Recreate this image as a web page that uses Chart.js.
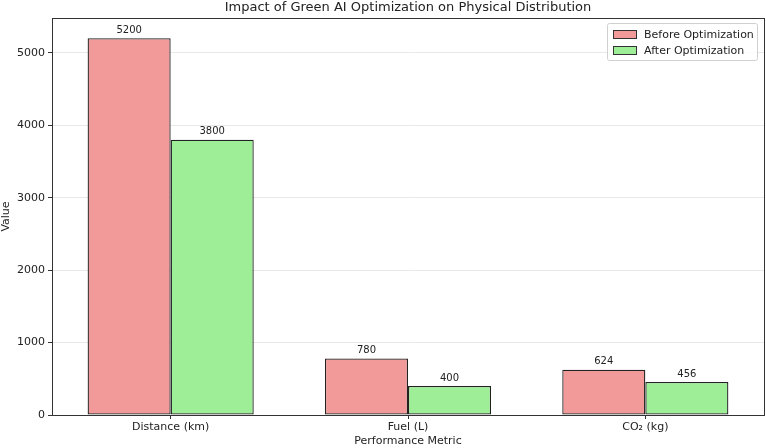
<!DOCTYPE html>
<html><head><meta charset="utf-8">
<script src="https://cdn.jsdelivr.net/npm/chart.js@4/dist/chart.umd.min.js"></script>
<style>html,body{margin:0;padding:0;background:#fff}#wrap{width:766px;height:448px}</style>
</head><body><div id="wrap"><canvas id="c" width="766" height="448"></canvas></div>
<script>
const categories = ['Distance (km)', 'Fuel (L)', 'CO\u2082 (kg)'];
const beforeValues = [5200, 780, 624];
const afterValues = [3800, 400, 456];
const seriesNames = ['Before Optimization', 'After Optimization'];
const yTicks = [0, 1000, 2000, 3000, 4000, 5000];
const chartTitle = 'Impact of Green AI Optimization on Physical Distribution';

const FONT = "'DejaVu Sans', sans-serif";
const red = 'rgb(242,153,153)';
const green = 'rgb(158,238,152)';

const framePlugin = {
  id: 'frame',
  afterDraw(chart) {
    const {ctx, chartArea: a} = chart;
    ctx.save();
    ctx.strokeStyle = '#333';
    ctx.lineWidth = 1;
    ctx.strokeRect(Math.round(a.left) + 0.5, Math.round(a.top) + 0.5, Math.round(a.right - a.left), Math.round(a.bottom - a.top));
    ctx.restore();
  }
};

const axesTitle = {
  id: 'axesTitle',
  afterDraw(chart) {
    const {ctx, chartArea: a} = chart;
    ctx.save();
    ctx.font = '13px ' + FONT;
    ctx.fillStyle = '#222';
    ctx.textAlign = 'center';
    ctx.textBaseline = 'middle';
    ctx.fillText(chartTitle, (a.left + a.right) / 2, 8);
    ctx.restore();
  }
};

const valueLabels = {
  id: 'valueLabels',
  afterDatasetsDraw(chart) {
    const ctx = chart.ctx;
    ctx.save();
    ctx.font = '10px ' + FONT;
    ctx.fillStyle = '#222';
    ctx.textAlign = 'center';
    ctx.textBaseline = 'bottom';
    chart.data.datasets.forEach((ds, i) => {
      chart.getDatasetMeta(i).data.forEach((bar, j) => {
        ctx.fillText(String(ds.data[j]), bar.x, bar.y - 3);
      });
    });
    ctx.restore();
  }
};

const boxLegend = {
  id: 'boxLegend',
  afterDraw(chart) {
    const {ctx, chartArea: a} = chart;
    ctx.save();
    ctx.font = '11px ' + FONT;
    const w = 150, h = 37;
    const x = a.right - 7 - w, y = a.top + 5;
    ctx.fillStyle = 'rgba(255,255,255,0.85)';
    ctx.strokeStyle = '#d0d0d0';
    ctx.lineWidth = 1;
    ctx.beginPath();
    ctx.roundRect(x + 0.5, y + 0.5, w, h, 2);
    ctx.fill();
    ctx.stroke();
    chart.data.datasets.forEach((ds, i) => {
      const yy = y + 11 + i * 16;
      ctx.fillStyle = ds.backgroundColor;
      ctx.fillRect(x + 6, yy - 4, 23, 8);
      ctx.strokeStyle = '#333';
      ctx.strokeRect(x + 6.5, yy - 3.5, 23, 8);
      ctx.fillStyle = '#222';
      ctx.textBaseline = 'middle';
      ctx.textAlign = 'left';
      ctx.fillText(ds.label, x + 37, yy + 1);
    });
    ctx.restore();
  }
};

new Chart(document.getElementById('c'), {
  type: 'bar',
  data: {
    labels: categories,
    datasets: [
      {label: seriesNames[0], data: beforeValues, backgroundColor: red, borderColor: '#222', borderWidth: 1.3, borderSkipped: false},
      {label: seriesNames[1], data: afterValues, backgroundColor: green, borderColor: '#222', borderWidth: 1.3, borderSkipped: false}
    ]
  },
  options: {
    responsive: false,
    animation: false,
    devicePixelRatio: 1,
    layout: {padding: {left: 0, right: 2, top: 18, bottom: 0}},
    datasets: {bar: {categoryPercentage: 0.7, barPercentage: 1.0}},
    plugins: {
      legend: {display: false},
      tooltip: {enabled: false},
      title: {display: false}
    },
    scales: {
      x: {
        offset: true,
        grid: {display: true, drawOnChartArea: false, drawTicks: true, tickLength: 4, offset: false, color: '#333'},
        border: {display: true, color: '#333'},
        ticks: {color: '#222', font: {family: FONT, size: 11}, padding: 2, maxRotation: 0},
        title: {display: true, text: 'Performance Metric', color: '#222', font: {family: FONT, size: 11}, padding: {top: 0, bottom: 0}},
        afterFit(s) { s.height = 33; }
      },
      y: {
        min: 0, max: 5480,
        afterBuildTicks(s) { s.ticks = yTicks.map(v => ({value: v})); },
        grid: {color: '#e8e8e8', tickColor: '#333', tickLength: 4, drawTicks: true},
        border: {display: true, color: '#333'},
        ticks: {color: '#222', font: {family: FONT, size: 11}, padding: 3, autoSkip: false,
          callback: v => String(v)},
        title: {display: true, text: 'Value', color: '#222', font: {family: FONT, size: 11}, padding: {top: 0, bottom: 2}},
        afterFit(s) { s.width = 52; }
      }
    }
  },
  plugins: [framePlugin, valueLabels, boxLegend, axesTitle]
});
</script></body></html>
